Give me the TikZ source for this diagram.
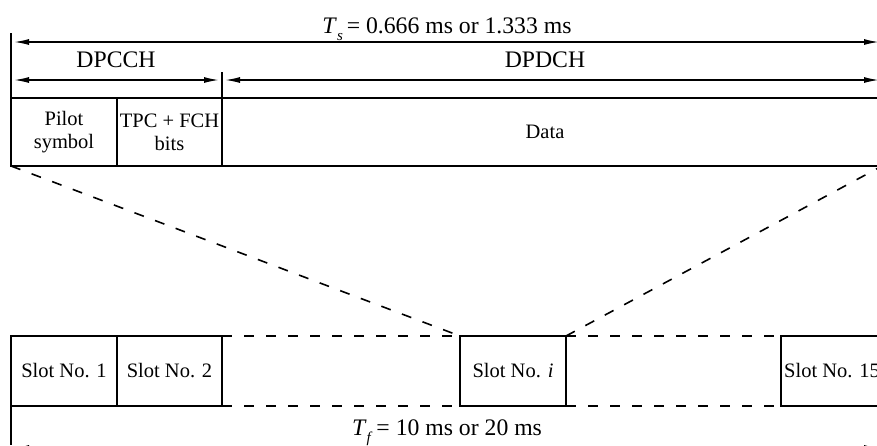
\documentclass[tikz,border=0pt]{standalone}
\usepackage{fontspec}
\setmainfont{Liberation Serif}
\usetikzlibrary{arrows.meta}
\newcommand{\tsub}[2]{\textit{#1}\raisebox{-0.3em}{\fontsize{15}{15}\selectfont\textit{#2}}\,}
\begin{document}
\begin{tikzpicture}[x=1pt,y=-1pt,
 box/.style={draw,line width=2.8pt,inner sep=0pt,outer sep=0pt,anchor=north west},
 dim/.style={line width=1.5pt,{Latex[length=15pt,width=6pt]}-{Latex[length=15pt,width=6pt]}},
 dsh/.style={line width=1.6pt,dash pattern=on 10pt off 12pt},
 thinl/.style={line width=1.2pt},
 lbl/.style={font=\fontsize{23.7}{26}\selectfont,inner sep=0pt,anchor=base},
 txt/.style={font=\fontsize{20.5}{23}\selectfont,align=center,inner sep=0pt}]
\useasboundingbox (0,0) rectangle (877,445);
\clip (0,0) rectangle (877,445);

% top frame
\node[box,minimum width=106pt,minimum height=68pt,txt] (pilot) at (11,98) {Pilot\\symbol};
\node[box,minimum width=105pt,minimum height=68pt,txt] (tpc) at (117,98) {TPC + FCH\\bits};
\node[box,minimum width=700pt,minimum height=68pt] (data) at (222,98) {};
\node[txt] (datatxt) at (545,132) {Data};

% slots
\node[box,minimum width=106pt,minimum height=70pt,txt] (s1) at (11,336) {Slot No. 1};
\node[box,minimum width=105pt,minimum height=70pt,txt] (s2) at (117,336) {Slot No. 2};
\node[box,minimum width=106pt,minimum height=70pt,txt] (si) at (460,336) {Slot No. \textit{i}};
\node[box,minimum width=120pt,minimum height=70pt] (s15) at (781,336) {};
\node[txt,anchor=west] (s15txt) at (784,371) {Slot No. 15};

% coordinates
\coordinate (vl0) at (11,33);
\coordinate (vl1) at (11,445);
\coordinate (tk) at (222,72);
\coordinate (tsL) at (14,42);
\coordinate (tsR) at (879,42);
\coordinate (ccL) at (14,80);
\coordinate (ccR) at (219,80);
\coordinate (dcL) at (225,80);
\coordinate (dcR) at (879,80);
\coordinate (tfL) at (14,448);
\coordinate (tfR) at (879,448);
\coordinate (dr) at (882,166);

% vertical guide lines
\draw[thinl] (vl0) -- (pilot.north west);
\draw[thinl] (tk) -- (data.north west);
\draw[thinl] (s1.south west) -- (vl1);

% dimension arrows
\draw[dim] (tsL) -- (tsR);
\draw[dim] (ccL) -- (ccR);
\draw[dim] (dcL) -- (dcR);
\draw[dim] (tfL) -- (tfR);

\node[lbl] (ts) at (447,33) {\tsub{T}{s}= 0.666 ms or 1.333 ms};
\node[lbl] (dpcch) at (116,67) {DPCCH};
\node[lbl] (dpdch) at (545,67) {DPDCH};
\node[lbl] (tf) at (447,435) {\tsub{T}{f}= 10 ms or 20 ms};

% dashed lines
\draw[dsh] (pilot.south west) -- (si.north west);
\draw[dsh] (si.north east) -- (dr);
\draw[dsh] (s2.north east) -- (si.north west);
\draw[dsh] (s2.south east) -- (si.south west);
\draw[dsh] (si.north east) -- (s15.north west);
\draw[dsh] (si.south east) -- (s15.south west);
\end{tikzpicture}
\end{document}
